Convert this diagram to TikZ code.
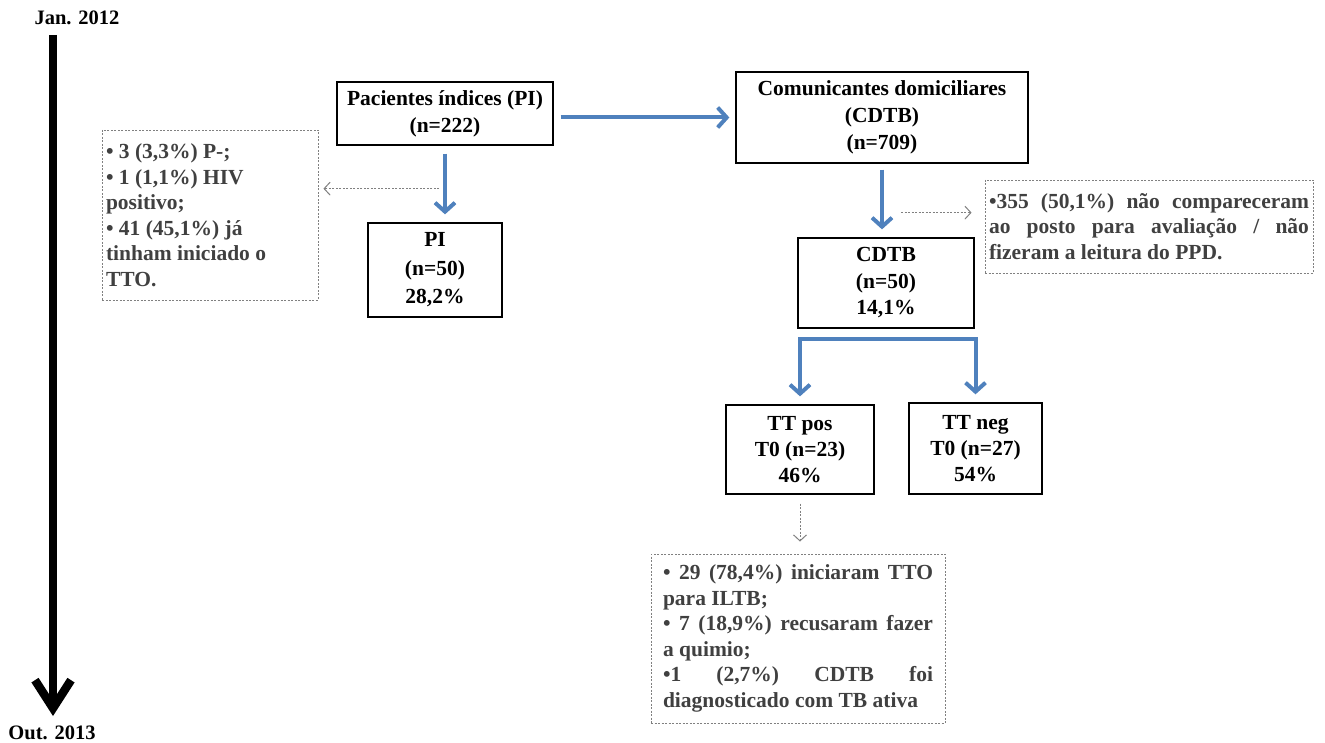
\documentclass[tikz,border=0pt]{standalone}
\usepackage{fontspec}
\setmainfont{Liberation Serif}
\usetikzlibrary{arrows.meta,calc}
\definecolor{obl}{RGB}{79,129,189}
\definecolor{dgr}{RGB}{64,64,64}
\definecolor{lgr}{RGB}{128,128,128}
\begin{document}
\begin{tikzpicture}[x=1pt,y=-1pt,
  box/.style={draw=black,line width=1.3pt,fill=white,align=center,inner sep=0pt,
    font=\bfseries\fontsize{21.5}{27}\selectfont},
  dbox/.style={draw=lgr,line width=0.9pt,dash pattern=on 2pt off 1.5pt,text=dgr,
    inner ysep=0pt,font=\bfseries\fontsize{21.5}{25.5}\selectfont},
  barrow/.style={draw=obl,line width=4pt,-{Straight Barb[length=9pt,width=20pt]}},
  garrow/.style={draw=lgr,line width=0.8pt,dash pattern=on 2pt off 1.5pt,
    -{Straight Barb[length=6pt,width=13pt,line width=1pt]}},
  lbl/.style={font=\bfseries\fontsize{20.5}{24}\selectfont,inner sep=0pt}]
\useasboundingbox (0,0) rectangle (1325,743);

% timeline
\node[lbl] (jan) at (77,18) {Jan. 2012};
\node[lbl] (out) at (52,733) {Out. 2013};
\coordinate (tl0) at (53,35);
\coordinate (tl1) at (53,716);
\draw[line width=8pt,-{Straight Barb[length=28pt,width=36pt,line width=8.5pt]}] (tl0) -- (tl1);

% main boxes
\node[box,minimum width=216pt,minimum height=63pt] (pi) at (445,113.5)
  {Pacientes índices (PI)\\(n=222)};
\node[box,minimum width=292pt,minimum height=91pt] (cd) at (882,117.5)
  {Comunicantes domiciliares\\(CDTB)\\(n=709)};
\node[box,minimum width=134pt,minimum height=94pt,font=\bfseries\fontsize{21.5}{28.5}\selectfont] (pib) at (435,270)
  {PI\\(n=50)\\28,2\%};
\node[box,minimum width=176pt,minimum height=90pt,font=\bfseries\fontsize{21.5}{26.5}\selectfont] (cdb) at (886,283)
  {CDTB\\(n=50)\\14,1\%};
\node[box,minimum width=148pt,minimum height=89pt,font=\bfseries\fontsize{21.5}{26}\selectfont] (ttpos) at (800,449.5)
  {TT pos\\T0 (n=23)\\46\%};
\node[box,minimum width=133pt,minimum height=91pt,font=\bfseries\fontsize{21.5}{26}\selectfont] (ttneg) at (975.5,448.5)
  {TT neg\\T0 (n=27)\\54\%};

% dashed boxes
\node[dbox,inner xsep=4pt,text width=208pt,align=flush left,minimum height=170pt] (lbox) at (210,215)
  {• 3 (3,3\%) P-;\\• 1 (1,1\%) HIV\\positivo;\\• 41 (45,1\%) já\\tinham iniciado o\\TTO.};
\node[dbox,inner xsep=4pt,text width=320pt,align=justify,minimum height=93pt] (rbox) at (1149,226.5)
  {•355 (50,1\%) não compareceram\linebreak ao posto para avaliação / não\linebreak fizeram a leitura do PPD.};
\node[dbox,inner xsep=12pt,text width=270pt,align=justify,minimum height=169pt] (bbox) at (798,638.5)
  {• 29 (78,4\%) iniciaram TTO\linebreak para ILTB;\\• 7 (18,9\%) recusaram fazer\linebreak a quimio;\\•1 (2,7\%) CDTB foi\linebreak diagnosticado com TB ativa};

% helper coordinates
\coordinate (m1) at ($(pi.south)+(0,43)$);
\coordinate (m2) at ($(cd.south)+(0,49)$);
\coordinate (split) at ($(cdb.south)+(0,10)$);

% gray dashed arrows
\draw[garrow,shorten <=6pt,shorten >=5pt] (m1) -- (m1 -| lbox.east);
\draw[garrow,shorten <=19pt,shorten >=13pt] (m2) -- (m2 -| rbox.west);
\draw[garrow,shorten <=9pt,shorten >=12pt] (ttpos.south) -- (ttpos.south |- bbox.north);

% blue arrows
\draw[barrow,shorten <=7pt,shorten >=6pt] (pi.east |- cd.west) -- (cd.west);
\draw[barrow,shorten <=8pt,shorten >=8pt] (pi.south) -- (pi.south |- pib.north);
\draw[barrow,shorten <=6pt,shorten >=8pt] (cd.south) -- (cd.south |- cdb.north);
\draw[barrow,shorten >=8pt] (split) -| (ttpos.north);
\draw[barrow,shorten >=8pt] (split) -| (ttneg.north);
\end{tikzpicture}
\end{document}
